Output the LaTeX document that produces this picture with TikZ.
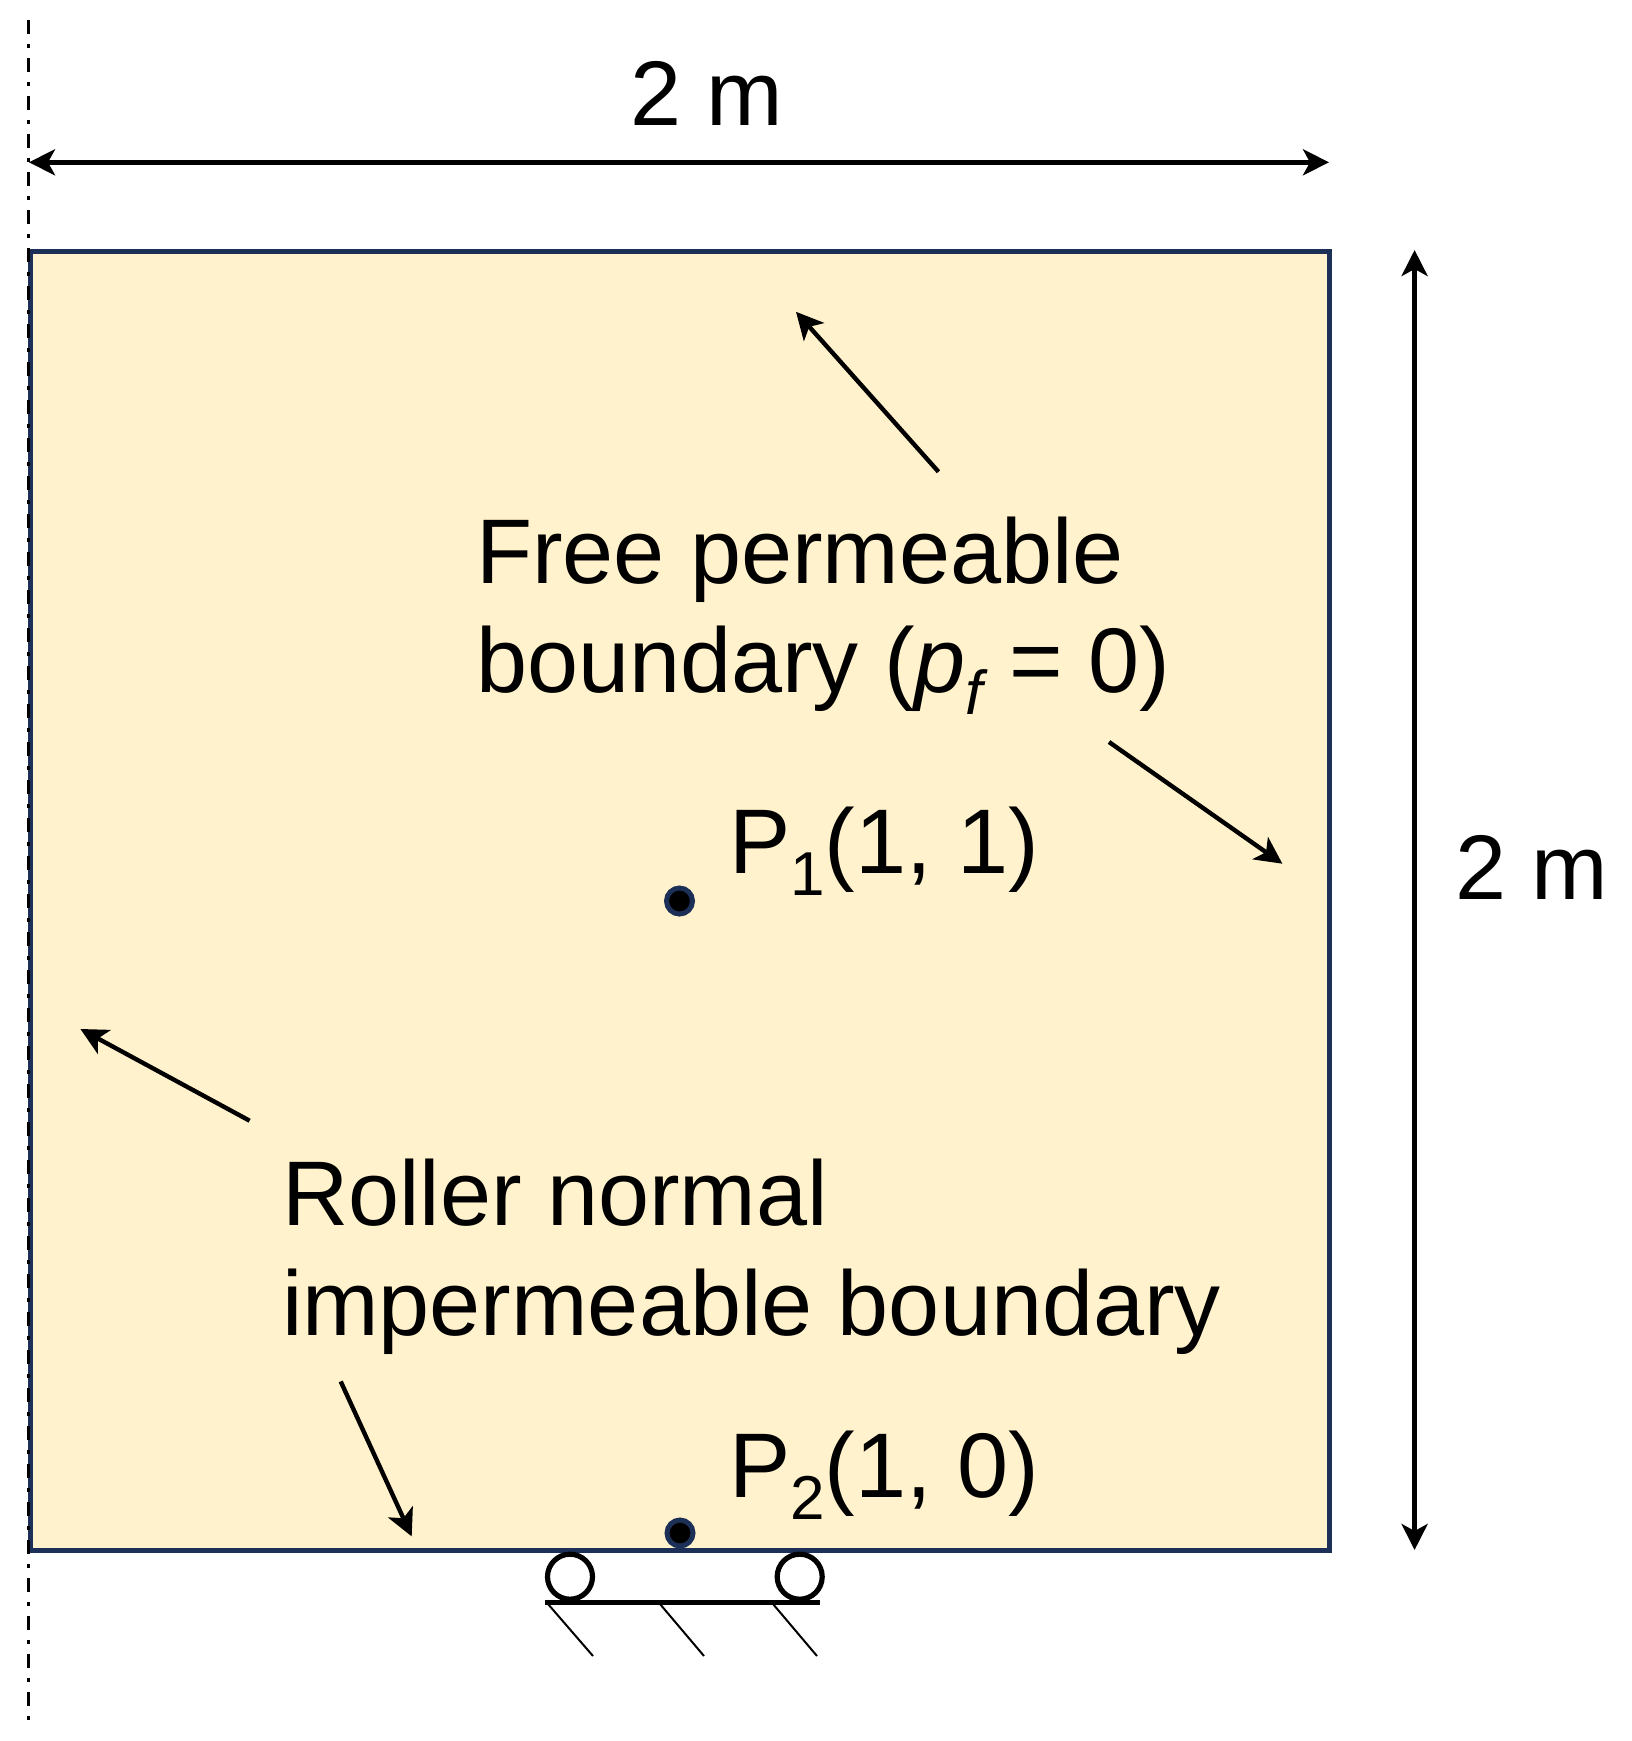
\documentclass[tikz,border=0pt]{standalone}
\usepackage{fontspec}
\setmainfont{Liberation Sans}
\usetikzlibrary{arrows.meta}
\definecolor{navyline}{HTML}{1C2F57}
\definecolor{domainfill}{HTML}{FFF2CC}
\newcommand{\mainsize}{\fontsize{45.9}{55}\selectfont}
\newcommand{\subtxt}[1]{\raisebox{-11pt}{\fontsize{31}{36}\selectfont #1}}
\tikzset{
  head/.style={-{Stealth[length=13.5pt,width=13.5pt,inset=3.5pt]}},
  dimline/.style={{Stealth[length=13pt,width=13pt,inset=3.5pt]}-{Stealth[length=13pt,width=13pt,inset=3.5pt]},line width=2.6pt,black},
  pointer/.style={head,line width=2.2pt,black},
  lbl/.style={inner sep=0pt,outer sep=0pt,anchor=base west,align=left,font=\mainsize,text=black},
  squarebox/.style={draw=navyline,fill=domainfill,line width=2.8pt,anchor=north west,inner sep=0pt,outer sep=0pt,minimum width=649.5pt,minimum height=649.5pt},
  probe/.style={circle,draw=navyline,fill=black,line width=2.5pt,inner sep=0pt,minimum size=13pt},
  roller/.style={circle,draw=black,fill=white,line width=2.6pt,inner sep=0pt,minimum size=22.5pt},
  hatchline/.style={line width=1pt,black},
}
\begin{document}
\begin{tikzpicture}[x=0.5pt,y=-0.5pt]
\useasboundingbox (0,0) rectangle (1632,1741);
% domain
\node[squarebox] (dom) at (30.5,251.5) {};
% symmetry axis
\coordinate (axT) at (28.6,20);
\coordinate (axB) at (28.6,1723);
\draw[black,line width=1.5pt,dash pattern=on 7.2pt off 4.8pt on 1.8pt off 5.2pt] (axT) -- (axB);
% dimensions
\coordinate (dL) at (29,162.3);
\coordinate (dR) at (1329,162.3);
\draw[dimline] (dL) -- (dR);
\coordinate (vT) at (1414.6,250);
\coordinate (vB) at (1414.6,1550);
\draw[dimline] (vT) -- (vB);
\node[lbl] (wlab) at (630,125) {2 m};
\node[lbl] (hlab) at (1455.5,899) {2 m};
% pointers
\coordinate (a1s) at (938.5,471.8);
\coordinate (a1e) at (796,311.8);
\draw[pointer] (a1s) -- (a1e);
\coordinate (a2s) at (1109,742);
\coordinate (a2e) at (1282.4,863.7);
\draw[pointer] (a2s) -- (a2e);
\coordinate (a3s) at (249.6,1120.7);
\coordinate (a3e) at (80.4,1029);
\draw[pointer] (a3s) -- (a3e);
\coordinate (a4s) at (340.7,1381.4);
\coordinate (a4e) at (411.7,1536.4);
\draw[pointer] (a4s) -- (a4e);
% labels
\node[lbl] (free1) at (476,583) {Free permeable};
\node[lbl] (free2) at (476,692.5) {boundary (\textit{p}\subtxt{\textit{f}}\kern-2.5pt{} = 0)};
\node[lbl] (roll1) at (282,1225.7) {Roller normal};
\node[lbl] (roll2) at (282,1335.7) {impermeable boundary};
\node[lbl] (p1lab) at (729,873.3) {P\subtxt{1}(1, 1)};
\node[lbl] (p2lab) at (729,1497.7) {P\subtxt{2}(1, 0)};
% probes
\node[probe] (p1) at (679.5,901) {};
\node[probe] (p2) at (680,1533) {};
% roller support
\node[roller] (r1) at (570,1576.7) {};
\node[roller] (r2) at (799.7,1576.7) {};
\coordinate (bL) at (545,1602.3);
\coordinate (bR) at (820,1602.3);
\draw[line width=2.5pt,black] (bL) -- (bR);
\coordinate (h1a) at (548,1604);
\coordinate (h1b) at (593,1656);
\coordinate (h2a) at (660,1604);
\coordinate (h2b) at (704,1656);
\coordinate (h3a) at (773,1604);
\coordinate (h3b) at (817,1656);
\draw[hatchline] (h1a) -- (h1b);
\draw[hatchline] (h2a) -- (h2b);
\draw[hatchline] (h3a) -- (h3b);
\end{tikzpicture}
\end{document}
